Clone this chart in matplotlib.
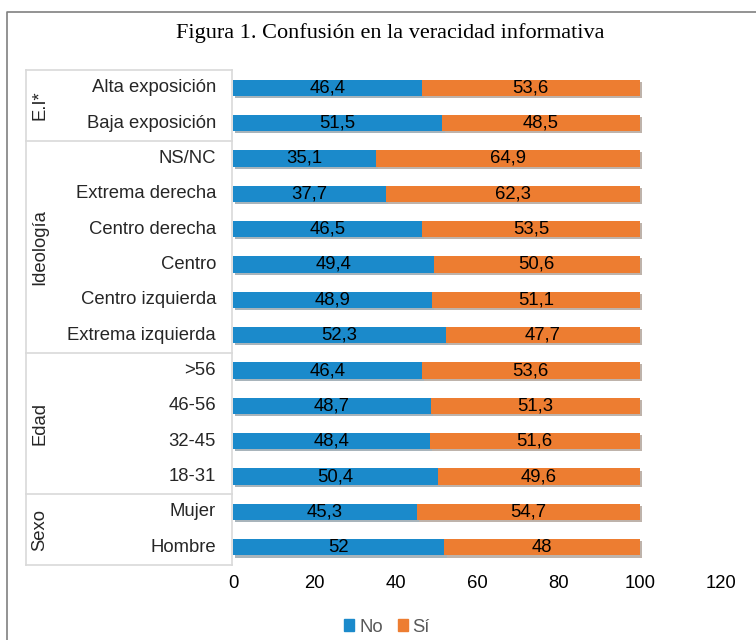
import matplotlib.pyplot as plt
import matplotlib.patheffects as pe
from matplotlib.lines import Line2D
from matplotlib.patches import Patch

categorias = ["Alta exposición", "Baja exposición",
              "NS/NC", "Extrema derecha", "Centro derecha", "Centro",
              "Centro izquierda", "Extrema izquierda",
              ">56", "46-56", "32-45", "18-31",
              "Mujer", "Hombre"]
valores_no = [46.4, 51.5, 35.1, 37.7, 46.5, 49.4, 48.9, 52.3,
              46.4, 48.7, 48.4, 50.4, 45.3, 52]
valores_si = [53.6, 48.5, 64.9, 62.3, 53.5, 50.6, 51.1, 47.7,
              53.6, 51.3, 51.6, 49.6, 54.7, 48]
grupos = ["E.I*", "Ideología", "Edad", "Sexo"]
tam_grupos = [2, 6, 4, 2]

azul = "#1b8acb"
naranja = "#ed7d31"
fs = 13.3

fig = plt.figure(figsize=(7.56, 6.4), dpi=100)
ax = fig.add_axes([233 / 756, 1 - 565 / 640, 488 / 756, 495 / 640])

y = list(range(len(categorias)))
sombra = [pe.SimplePatchShadow(offset=(1.5, -1.5), alpha=0.35), pe.Normal()]
b1 = ax.barh(y, valores_no, height=0.46, color=azul)
b2 = ax.barh(y, valores_si, left=valores_no, height=0.46, color=naranja)
for barras in (b1, b2):
    for p in barras:
        p.set_path_effects(sombra)

fmt = lambda v: f"{v:g}".replace(".", ",")
ax.bar_label(b1, labels=[fmt(v) for v in valores_no], label_type="center",
             fontsize=fs, color="black", family="Liberation Sans")
ax.bar_label(b2, labels=[fmt(v) for v in valores_si], label_type="center",
             fontsize=fs, color="black", family="Liberation Sans")

ax.set_xlim(0, 120)
ax.set_ylim(13.5, -0.5)
ax.set_xticks(range(0, 121, 20))
ax.set_yticks([])
ax.tick_params(axis="x", length=0, pad=7, labelsize=fs)
for lbl in ax.get_xticklabels():
    lbl.set_family("Liberation Sans")
for s in ax.spines.values():
    s.set_visible(False)

# tabla de categorias a la izquierda
gris = "#d9d9d9"
x_izq = (26 - 233) / 488 * 120
x_der = (232 - 233) / 488 * 120
for i, c in enumerate(categorias):
    ax.text((216 - 233) / 488 * 120, i, c, ha="right", va="center",
            fontsize=fs, color="#262626", family="Liberation Sans", clip_on=False)

inicio = -0.5
bordes = [inicio]
for g, n in zip(grupos, tam_grupos):
    centro = inicio + n / 2
    ax.text((40 - 233) / 488 * 120, centro, g, rotation=90, ha="center", va="center",
            fontsize=fs, color="#262626", family="Liberation Sans", clip_on=False)
    inicio += n
    bordes.append(inicio)
for b in bordes:
    ax.plot([x_izq, x_der], [b, b], color=gris, lw=1.2, clip_on=False)
ax.plot([x_izq, x_izq], [-0.5, 13.5], color=gris, lw=1.2, clip_on=False)
ax.plot([x_der, x_der], [-0.5, 13.5], color=gris, lw=1.2, clip_on=False)

fig.text(390 / 756, 1 - 33 / 640, "Figura 1. Confusión en la veracidad informativa",
         ha="center", va="center", fontsize=16, family="Liberation Serif")

# marco del grafico
fig.add_artist(Line2D([7 / 756, 7 / 756, 1.01], [-0.01, 1 - 12 / 640, 1 - 12 / 640],
                      color="#808080", lw=1.2))

manejadores = [Patch(color=azul, label="No"), Patch(color=naranja, label="Sí")]
leg = fig.legend(handles=manejadores, loc="center", bbox_to_anchor=(387 / 756, 1 - 627 / 640),
                 ncol=2, frameon=False, handlelength=0.55, handleheight=0.55,
                 handletextpad=0.25, columnspacing=0.8,
                 prop={"family": "Liberation Sans", "size": fs})
for t in leg.get_texts():
    t.set_color("#595959")

fig.savefig("out.png", dpi=100)
